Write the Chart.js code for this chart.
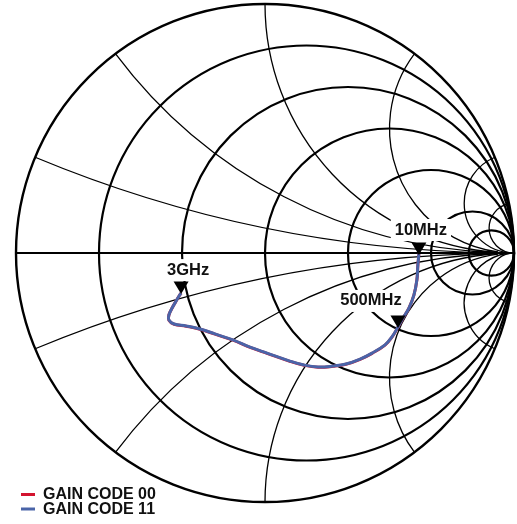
<!DOCTYPE html>
<html>
<head>
<meta charset="utf-8">
<script src="https://cdn.jsdelivr.net/npm/chart.js@4.4.1/dist/chart.umd.min.js"></script>
<style>
  html, body { margin: 0; padding: 0; background: #fff; }
  #wrap { position: relative; width: 517px; height: 524px; }
</style>
</head>
<body>
<div id="wrap"><canvas id="chart-smith"></canvas></div>
<script>
/* smith chart — S11 of the input, 10MHz to 3GHz, two gain codes */

// grid: constant resistance circles and constant reactance arcs
const resistanceCircles = [0.2, 0.5, 1, 2, 5, 10];
const reactanceArcs = [0.2, 0.5, 1, 2, 5, 10];

// reflection coefficient, 10MHz first, 3GHz last
const gain00Re = [0.618, 0.614, 0.610, 0.598, 0.578, 0.554, 0.534, 0.510, 0.482, 0.430, 0.382, 0.325, 0.273, 0.213, 0.157, 0.100, 0.008, -0.060, -0.129, -0.201, -0.261, -0.317, -0.365, -0.386, -0.386, -0.373, -0.357, -0.345, -0.337];
const gain00Im = [-0.004, -0.048, -0.108, -0.169, -0.221, -0.262, -0.298, -0.338, -0.370, -0.403, -0.427, -0.447, -0.455, -0.459, -0.451, -0.435, -0.403, -0.379, -0.350, -0.326, -0.306, -0.294, -0.286, -0.270, -0.249, -0.221, -0.193, -0.173, -0.161];
const gain11Re = [0.618, 0.614, 0.610, 0.598, 0.578, 0.554, 0.534, 0.510, 0.482, 0.430, 0.382, 0.325, 0.273, 0.213, 0.157, 0.100, 0.008, -0.060, -0.129, -0.201, -0.261, -0.317, -0.365, -0.386, -0.386, -0.373, -0.357, -0.345, -0.337];
const gain11Im = [-0.004, -0.048, -0.108, -0.169, -0.221, -0.261, -0.297, -0.337, -0.369, -0.402, -0.426, -0.446, -0.454, -0.458, -0.450, -0.434, -0.402, -0.378, -0.349, -0.325, -0.305, -0.293, -0.285, -0.269, -0.249, -0.221, -0.193, -0.173, -0.161];

// frequency markers, as indexes into the trace
const markerLabels = ["10MHz", "500MHz", "3GHz"];
const markerIndex = [0, 6, 28];

const seriesNames = ["GAIN CODE 00", "GAIN CODE 11"];
const seriesColors = ["#d3142f", "#4a64a8"];

const FONT = "bold 16.5px 'Liberation Sans', Arial, sans-serif";
// where each label sits relative to its marker tip (px)
const labelOffset = [[2, -24], [-27, -26], [7, -23]];

function gamma(r, x) {
  const d = (r + 1) * (r + 1) + x * x;
  return [(r * r + x * x - 1) / d, (2 * x) / d];
}

function labelBoxes(chart) {
  const { ctx, scales: { x, y } } = chart;
  ctx.font = FONT;
  return markerIndex.map((idx, i) => {
    const tx = x.getPixelForValue(gain11Re[idx]);
    const ty = y.getPixelForValue(gain11Im[idx]);
    const cx = tx + labelOffset[i][0];
    const cy = ty + labelOffset[i][1];
    const w = ctx.measureText(markerLabels[i]).width;
    return { tx, ty, cx, cy, w };
  });
}

const smithGrid = {
  id: "smithGrid",
  beforeDatasetsDraw(chart) {
    const { ctx, scales: { x, y } } = chart;
    const px = (v) => x.getPixelForValue(v);
    const py = (v) => y.getPixelForValue(v);
    const unit = px(1) - px(0);
    ctx.save();
    ctx.strokeStyle = "#000";

    // reactance arcs (thin)
    ctx.lineWidth = 1.3;
    reactanceArcs.forEach((xv) => {
      [xv, -xv].forEach((s) => {
        const rMax = Math.abs(s) >= 5 ? 1e6 : 30; // small-x arcs stop short of the right edge
        const g0 = gamma(0, s), g1 = gamma(rMax, s);
        const cx = px(1), cy = py(1 / s), rad = unit / Math.abs(s);
        let a0 = Math.atan2(py(g0[1]) - cy, px(g0[0]) - cx);
        let a1 = Math.atan2(py(g1[1]) - cy, px(g1[0]) - cx);
        ctx.beginPath();
        if (s > 0) {
          while (a0 <= a1) a0 += Math.PI * 2;
          ctx.arc(cx, cy, rad, a1, a0, false);
        } else {
          while (a1 <= a0) a1 += Math.PI * 2;
          ctx.arc(cx, cy, rad, a0, a1, false);
        }
        ctx.stroke();
      });
    });

    // resistance circles (thick)
    ctx.lineWidth = 2.2;
    resistanceCircles.forEach((r) => {
      ctx.beginPath();
      ctx.arc(px(r / (1 + r)), py(0), unit / (1 + r), 0, Math.PI * 2);
      ctx.stroke();
    });

    // outer rim + real axis
    ctx.lineWidth = 2.4;
    ctx.beginPath();
    ctx.arc(px(0), py(0), unit, 0, Math.PI * 2);
    ctx.stroke();
    ctx.lineWidth = 2.2;
    ctx.beginPath();
    ctx.moveTo(px(-1), py(0));
    ctx.lineTo(px(1), py(0));
    ctx.stroke();

    // white boxes behind the marker labels knock the grid out
    ctx.fillStyle = "#fff";
    labelBoxes(chart).forEach((b) => {
      ctx.fillRect(b.cx - b.w / 2 - 4, b.cy - 11, b.w + 8, 22);
    });
    ctx.restore();
  },
  afterDatasetsDraw(chart) {
    const { ctx } = chart;
    ctx.save();
    labelBoxes(chart).forEach((b, i) => {
      // down-pointing triangle, tip on the trace
      ctx.fillStyle = "#000";
      ctx.beginPath();
      ctx.moveTo(b.tx, b.ty + 1);
      ctx.lineTo(b.tx - 7.5, b.ty - 11.5);
      ctx.lineTo(b.tx + 7.5, b.ty - 11.5);
      ctx.closePath();
      ctx.fill();
      ctx.font = FONT;
      ctx.textAlign = "center";
      ctx.textBaseline = "middle";
      ctx.fillStyle = "#111";
      ctx.fillText(markerLabels[i], b.cx, b.cy);
    });

    // legend, bottom left
    ctx.font = "bold 16px 'Liberation Sans', Arial, sans-serif";
    ctx.textAlign = "left";
    ctx.textBaseline = "middle";
    seriesNames.forEach((name, i) => {
      const ly = 494.5 + i * 14.5;
      ctx.strokeStyle = seriesColors[i];
      ctx.lineWidth = 3;
      ctx.beginPath();
      ctx.moveTo(21, ly);
      ctx.lineTo(35, ly);
      ctx.stroke();
      ctx.fillStyle = "#111";
      ctx.fillText(name, 43, ly + 0.5);
    });
    ctx.restore();
  },
};

const toPoints = (re, im) => re.map((v, i) => ({ x: v, y: im[i] }));

new Chart(document.getElementById("chart-smith"), {
  type: "scatter",
  data: {
    datasets: [
      // higher order is drawn first, so the blue trace ends up on top
      { label: seriesNames[0], order: 2, data: toPoints(gain00Re, gain00Im), showLine: true, borderColor: seriesColors[0], borderWidth: 3.0, pointRadius: 0, tension: 0.4, clip: false },
      { label: seriesNames[1], order: 1, data: toPoints(gain11Re, gain11Im), showLine: true, borderColor: seriesColors[1], borderWidth: 3.0, pointRadius: 0, tension: 0.4, clip: false },
    ],
  },
  options: {
    responsive: true, maintainAspectRatio: false, animation: false,
    layout: { padding: { left: 16, right: 3, top: 4, bottom: 22 } },
    plugins: { legend: { display: false }, tooltip: { enabled: false } },
    scales: {
      x: { type: "linear", min: -1, max: 1, display: false },
      y: { type: "linear", min: -1, max: 1, display: false },
    },
  },
  plugins: [smithGrid],
});
</script>
</body>
</html>
